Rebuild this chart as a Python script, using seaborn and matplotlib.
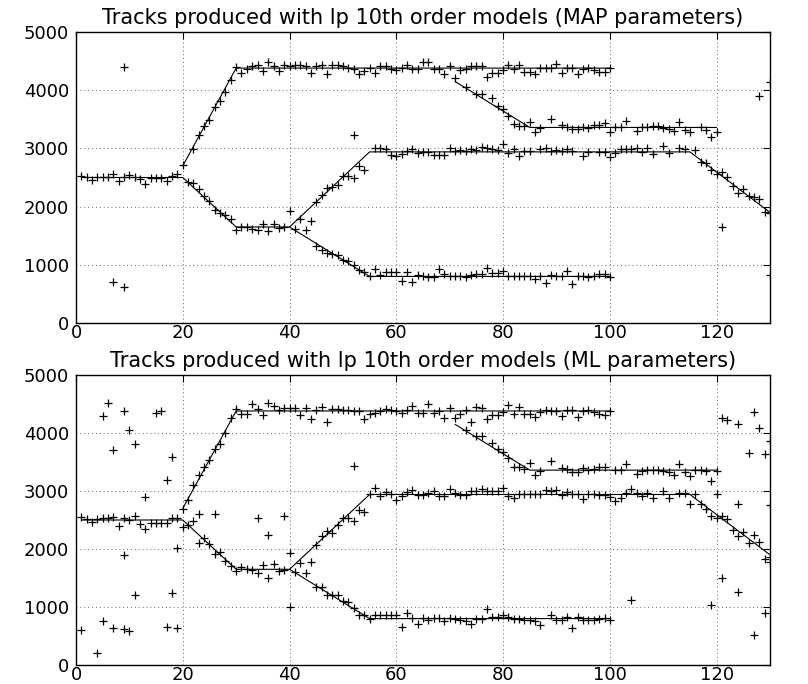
import matplotlib
matplotlib.use("Agg")
import matplotlib.pyplot as plt
import numpy as np
import pandas as pd
import seaborn as sns

# ---------------- true tracks (shared by both panels) ----------------
track_B_x = [1, 20, 30, 40, 55, 115, 130]
track_B_y = [2500, 2500, 1650, 1650, 2940, 2940, 1900]
track_A_x = [20, 30, 100]
track_A_y = [2700, 4380, 4380]
track_C_x = [40, 55, 100]
track_C_y = [1650, 800, 800]
track_D_x = [71, 85, 120]
track_D_y = [4150, 3360, 3360]

# ---------------- MAP parameter estimates (top panel) ----------------
map_early_x = list(range(1, 20))
map_early_y = [2531, 2514, 2457, 2510, 2510, 2510, 2554, 2440, 2510, 2543,
               2503, 2474, 2382, 2500, 2500, 2500, 2440, 2531, 2554]

map_A_x = [20, 22, 23, 24, 25, 26, 27, 28, 29, 30, 31, 32, 33, 34, 35, 36, 37, 38, 39, 40,
           41, 42, 43, 44, 45, 46, 47, 48, 49, 50, 51, 52, 53, 54, 55, 56, 57, 58, 59, 60,
           61, 62, 63, 64, 65, 66, 67, 68, 69, 70, 72, 73, 74, 75, 76, 77, 78, 79, 80, 81,
           82, 83, 84, 85, 86, 87, 88, 89, 90, 91, 92, 93, 94, 95, 96, 97, 98, 99, 100]
map_A_y = [2714, 2989, 3234, 3380, 3494, 3706, 3821, 3970, 4182, 4393, 4301, 4360, 4420, 4432, 4335, 4490, 4420, 4335, 4432, 4420,
           4432, 4432, 4420, 4301, 4420, 4440, 4272, 4432, 4432, 4420, 4387, 4370, 4280, 4330, 4387, 4290, 4420, 4410, 4370, 4350,
           4387, 4432, 4360, 4360, 4490, 4478, 4364, 4364, 4272, 4421, 4347, 4364, 4415, 4421, 4421, 4232, 4301, 4301, 4347, 4438,
           4364, 4432, 4318, 4318, 4272, 4387, 4387, 4387, 4450, 4290, 4387, 4387, 4272, 4360, 4387, 4347, 4318, 4310, 4375]

map_B_x = [21, 22, 23, 24, 25, 26, 27, 28, 29, 30, 31, 32, 33, 34, 35, 36, 37, 38, 39, 40,
           42, 44, 45, 46, 47, 48, 49, 50, 51, 52, 53, 54,
           56, 57, 58, 59, 60, 61, 62, 63, 64, 65, 66, 67, 68, 69, 70, 71, 72, 73, 74, 75,
           76, 77, 78, 79, 80, 81, 82, 83, 84, 85, 87, 88, 89, 90, 91, 92, 93, 95, 96, 98,
           99, 100, 101, 102, 103, 104, 105, 106, 107, 108, 110, 111, 113, 114, 116, 117, 118, 119, 120, 121,
           122, 123, 124, 125, 126, 127, 128, 129, 130]
map_B_y = [2428, 2411, 2296, 2188, 2102, 1941, 1896, 1855, 1787, 1598, 1655, 1655, 1615, 1598, 1695, 1581, 1695, 1638, 1655, 1924,
           1786, 1752, 2083, 2198, 2324, 2341, 2370, 2531, 2531, 2485, 2697, 2628,
           3001, 3001, 2984, 2892, 2875, 2904, 2950, 2984, 2918, 2932, 2944, 2886, 2886, 2886, 3001, 2955, 2972, 2955, 2990, 2972,
           3018, 3001, 2984, 2972, 3075, 2915, 2990, 2870, 2961, 2961, 2990, 3001, 2961, 2972, 2961, 2990, 2961, 2870, 2944, 2944,
           2932, 2858, 2915, 2990, 2990, 2990, 3001, 2944, 3001, 2898, 3035, 2915, 3001, 2984, 2972, 2772, 2755, 2629, 2560, 2600,
           2514, 2354, 2228, 2296, 2182, 2159, 2125, 1913, 1884]

map_C_x = [41, 43, 45, 46, 47, 48, 49, 50, 51, 52, 53, 54, 55, 56, 57, 58, 59, 60, 61, 62,
           63, 64, 65, 66, 67, 68, 69, 70, 71, 72, 73, 74, 75, 76, 77, 78, 79, 80, 81, 82,
           83, 84, 85, 86, 87, 88, 89, 90, 91, 92, 93, 94, 95, 96, 97, 98, 99, 100]
map_C_y = [1615, 1598, 1329, 1254, 1197, 1185, 1168, 1082, 1065, 997, 911, 883, 814, 922, 820, 870, 870, 870, 722, 870,
           705, 831, 802, 785, 790, 922, 836, 813, 813, 813, 796, 825, 836, 836, 951, 853, 853, 893, 813, 813,
           813, 813, 813, 762, 807, 682, 825, 813, 813, 893, 665, 813, 813, 785, 813, 836, 836, 796]

map_D_x = [71, 73, 75, 76, 78, 79, 80, 81, 82, 83, 84, 85, 86, 87, 89, 91, 92, 93, 94, 95,
           96, 97, 98, 99, 100, 101, 102, 103, 105, 106, 107, 108, 109, 110, 111, 112, 113, 114, 115, 117,
           118, 119, 120]
map_D_y = [4215, 4049, 3935, 3935, 3860, 3728, 3671, 3557, 3419, 3385, 3385, 3459, 3276, 3345, 3500, 3402, 3373, 3334, 3334, 3373,
           3356, 3402, 3402, 3430, 3285, 3373, 3373, 3476, 3302, 3362, 3373, 3391, 3391, 3356, 3334, 3302, 3447, 3322, 3285, 3373,
           3322, 3202, 3277]

map_out_x = [7, 9, 9, 52, 121, 128, 130, 130]
map_out_y = [710, 613, 4393, 3230, 1644, 3900, 4135, 825]

# ---------------- ML parameter estimates (bottom panel) ----------------
ml_early_x = list(range(1, 20))
ml_early_y = [2551, 2522, 2465, 2522, 2540, 2540, 2551, 2390, 2540, 2494,
              2569, 2436, 2350, 2453, 2453, 2453, 2453, 2540, 2540]

ml_A_x = list(range(20, 101))
ml_A_y = [2695, 2839, 3098, 3282, 3414, 3529, 3719, 3816, 4000, 4264, 4408, 4333, 4333, 4494, 4408, 4316, 4523, 4459, 4390, 4431,
          4431, 4431, 4316, 4425, 4235, 4390, 4448, 4189, 4420, 4420, 4402, 4402, 4373, 4373, 4235, 4333, 4350, 4379, 4420, 4390,
          4373, 4350, 4402, 4459, 4344, 4344, 4505, 4350, 4379, 4258, 4431, 4258, 4333, 4390, 4189, 4448, 4431, 4246, 4316, 4316,
          4362, 4477, 4322, 4448, 4333, 4333, 4276, 4362, 4402, 4379, 4373, 4293, 4402, 4402, 4270, 4373, 4402, 4362, 4333, 4304,
          4373]

ml_B_x = [21, 22, 23, 24, 25, 26, 27, 28, 29, 30, 31, 32, 33, 34, 35, 36, 37, 38, 39,
          42, 44, 45, 46, 47, 48, 49, 50, 51, 52, 53, 54, 55, 56, 57, 58, 59, 60,
          61, 62, 63, 64, 65, 66, 67, 68, 69, 70, 71, 72, 73, 74, 75, 76, 77, 78, 79, 80,
          81, 82, 83, 84, 85, 86, 87, 88, 89, 90, 91, 92, 93, 94, 95, 96, 97, 98, 99, 100,
          101, 102, 103, 104, 105, 106, 107, 108, 110, 111, 113, 114, 115, 116, 117, 118, 119, 120,
          121, 122, 123, 124, 125, 126, 127, 128, 129, 130]
ml_B_y = [2407, 2476, 2103, 2195, 2092, 1920, 1948, 1793, 1701, 1620, 1689, 1661, 1632, 1586, 1718, 1500, 1735, 1620, 1632,
          1758, 1776, 2063, 2224, 2310, 2276, 2419, 2540, 2540, 2483, 2678, 2638, 2954, 3057, 2914, 2983, 2954, 2850,
          2914, 2983, 3023, 2937, 2937, 2971, 2994, 2908, 2908, 3029, 2965, 2937, 2925, 2994, 2994, 3029, 3000, 3000, 3000, 3057,
          2908, 2885, 2954, 2954, 2954, 2954, 2942, 3023, 3005, 3023, 2937, 2983, 2942, 2942, 2868, 2954, 2954, 2925, 2925, 2896,
          2822, 2879, 2971, 3040, 2971, 2914, 2971, 2879, 3005, 2885, 2971, 2971, 2770, 2954, 2770, 2695, 2569, 2540,
          2569, 2511, 2333, 2224, 2293, 2109, 2235, 2121, 1822, 1862]

ml_C_x = [41, 43, 45, 46, 47, 48, 49, 50, 51, 52, 53, 54, 55, 56, 57, 58, 59, 60, 61, 62,
          63, 64, 65, 66, 67, 68, 69, 70, 71, 72, 73, 74, 75, 76, 77, 78, 79, 80, 81, 82,
          83, 84, 85, 86, 87, 89, 90, 91, 92, 93, 94, 95, 96, 97, 98, 99, 100]
ml_C_y = [1603, 1586, 1345, 1345, 1213, 1201, 1201, 1098, 1086, 988, 862, 862, 787, 856, 856, 856, 856, 856, 655, 891,
          816, 701, 816, 769, 816, 816, 753, 810, 787, 770, 753, 713, 799, 799, 960, 828, 828, 868, 828, 787,
          787, 770, 770, 753, 694, 868, 770, 770, 828, 641, 828, 770, 770, 770, 799, 810, 770]

ml_D_x = [73, 75, 76, 78, 79, 80, 81, 82, 83, 84, 85, 86, 87, 89, 91, 92, 93, 94, 95, 96,
          97, 98, 99, 101, 102, 103, 105, 106, 107, 108, 109, 110, 111, 112, 113, 114, 115, 116, 117, 118,
          119, 120]
ml_D_y = [4045, 3942, 3942, 3832, 3729, 3672, 3568, 3413, 3413, 3385, 3482, 3269, 3344, 3511, 3402, 3385, 3327, 3327, 3402, 3356,
          3385, 3413, 3413, 3356, 3356, 3460, 3287, 3344, 3356, 3367, 3367, 3344, 3327, 3269, 3459, 3327, 3252, 3356, 3356, 3344,
          3166, 3344]

ml_out_x = [1, 4, 5, 5, 6, 7, 7, 9, 9, 9, 10, 10, 11, 11, 13, 15, 16, 17, 17, 18,
            18, 19, 19, 20, 23, 26, 34, 36, 39, 40, 40, 52, 104, 119, 120, 121, 121, 122, 124, 127,
            128, 130, 126, 129, 124, 124, 130, 127, 129, 130]
ml_out_y = [609, 213, 752, 4293, 4517, 3700, 638, 4379, 1901, 615, 4045, 580, 3813, 1201, 2896, 4350, 4379, 3183, 655, 3585,
            1241, 2022, 638, 2379, 2609, 2609, 2534, 2246, 2568, 999, 1931, 3425, 1126, 1028, 2942, 1500, 4264, 4218, 4160, 4362,
            4085, 3855, 3654, 3631, 2781, 1258, 2752, 512, 900, 1775]

titles = ["Tracks produced with lp 10th order models (MAP parameters)",
          "Tracks produced with lp 10th order models (ML parameters)"]
x_ticks = [0, 20, 40, 60, 80, 100, 120]
y_ticks = [0, 1000, 2000, 3000, 4000, 5000]

# ---------------- build tables ----------------
truth = pd.concat([
    pd.DataFrame({"frame": track_B_x, "freq": track_B_y, "track": "B"}),
    pd.DataFrame({"frame": track_A_x, "freq": track_A_y, "track": "A"}),
    pd.DataFrame({"frame": track_C_x, "freq": track_C_y, "track": "C"}),
    pd.DataFrame({"frame": track_D_x, "freq": track_D_y, "track": "D"}),
], ignore_index=True)


def points(*pairs):
    xs, ys = [], []
    for px, py in pairs:
        xs += list(px)
        ys += list(py)
    return pd.DataFrame({"frame": xs, "freq": ys})


map_pts = points((map_early_x, map_early_y), (map_A_x, map_A_y), (map_B_x, map_B_y),
                 (map_C_x, map_C_y), (map_D_x, map_D_y), (map_out_x, map_out_y))
ml_pts = points((ml_early_x, ml_early_y), (ml_A_x, ml_A_y), (ml_B_x, ml_B_y),
                (ml_C_x, ml_C_y), (ml_D_x, ml_D_y), (ml_out_x, ml_out_y))

# ---------------- draw ----------------
sns.set_theme(style="white")
plt.rcParams["font.family"] = ["DejaVu Sans"]
plt.rcParams.update({"text.color": "black", "xtick.color": "black", "ytick.color": "black",
                     "axes.edgecolor": "black", "axes.labelcolor": "black"})

fig = plt.figure(figsize=(8.08, 6.84), dpi=100)
ax_top = fig.add_axes([76 / 808, 1 - 323 / 684, 694 / 808, 291 / 684])
ax_bot = fig.add_axes([76 / 808, 1 - 665 / 684, 694 / 808, 290 / 684])

for ax, pts, title in [(ax_top, map_pts, titles[0]), (ax_bot, ml_pts, titles[1])]:
    sns.lineplot(data=truth, x="frame", y="freq", units="track", estimator=None, sort=False,
                 color="black", linewidth=0.8, ax=ax, legend=False)
    sns.scatterplot(data=pts, x="frame", y="freq", marker="+", color="black",
                    s=40, linewidth=0.9, ax=ax, legend=False, zorder=3)
    ax.set_xlim(0, 130)
    ax.set_ylim(0, 5000)
    ax.set_xticks(x_ticks)
    ax.set_yticks(y_ticks)
    ax.set_xlabel("")
    ax.set_ylabel("")
    ax.grid(True, linestyle=(0, (1, 3)), color="#666666", linewidth=0.7)
    ax.tick_params(direction="in", top=True, right=True, length=5, width=0.8,
                   labelsize=13)
    ax.tick_params(axis="x", pad=1)
    ax.tick_params(axis="y", pad=5)
    for sp in ax.spines.values():
        sp.set_linewidth(1.0)
        sp.set_color("black")
    ax.set_title(title, fontsize=15, pad=6)

fig.savefig("out.png", dpi=100)
